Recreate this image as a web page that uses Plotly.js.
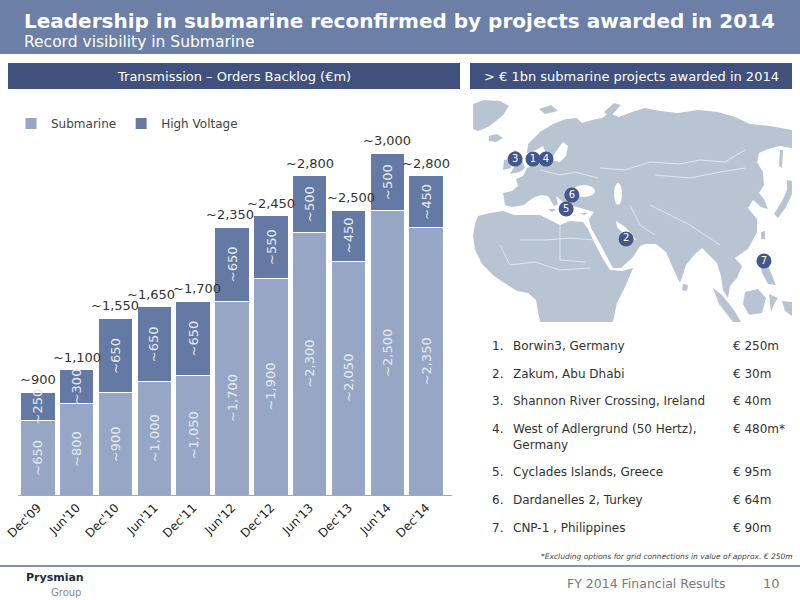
<!DOCTYPE html>
<html>
<head>
<meta charset="utf-8">
<script src="https://cdn.plot.ly/plotly-3.0.1.min.js"></script>
<style>
  html, body { margin: 0; padding: 0; background: #fff; }
  #chart { width: 800px; height: 600px; }
</style>
</head>
<body>
<div id="chart"></div>
<script>
// Data
const periods = ["Dec'09", "Jun'10", "Dec'10", "Jun'11", "Dec'11", "Jun'12", "Dec'12", "Jun'13", "Dec'13", "Jun'14", "Dec'14"];
const submarine = [650, 800, 900, 1000, 1050, 1700, 1900, 2300, 2050, 2500, 2350];
const highVoltage = [250, 300, 650, 650, 650, 650, 550, 500, 450, 500, 450];
const totals = [900, 1100, 1550, 1650, 1700, 2350, 2450, 2800, 2500, 3000, 2800];

const projectNames = ['Borwin3, Germany', 'Zakum, Abu Dhabi', 'Shannon River Crossing, Ireland',
    'West of Adlergrund (50 Hertz),<br>Germany', 'Cyclades Islands, Greece', 'Dardanelles 2, Turkey', 'CNP-1 , Philippines'];
const projectValues = ['€ 250m', '€ 30m', '€ 40m', '€ 480m*', '€ 95m', '€ 64m', '€ 90m'];
// pin location on the map, in % of map width / height (from top)
const pinLabels = ['1', '2', '3', '4', '5', '6', '7'];
const pinX = [18.8, 48.0, 13.2, 22.9, 29.2, 31.0, 91.2];
const pinY = [27.6, 63.1, 27.6, 27.6, 49.8, 43.6, 72.9];

// Page helpers (pixel -> paper)
const W = 800, H = 600;
const PX = x => x / W;
const PY = y => 1 - y / H;
const FONT = 'DejaVu Sans, Verdana, sans-serif';
const COL_SUB = '#97a6c5';
const COL_HV = '#6479a4';
const COL_NAVY = '#3f517c';
const COL_LAND = '#b9c4d3';

// small horizontal nudges of the total labels, as on the slide
const totalNudge = [0, 0, 0, -3, 4, -2, 0, 0, 2, 0, 0];

function fmt(v) { return '~' + v.toLocaleString('en-US'); }

function poly(points, color) {
    const d = points.map((p, i) => (i ? 'L' : 'M') + PX(p[0]).toFixed(4) + ',' + PY(p[1]).toFixed(4)).join(' ') + ' Z';
    return { type: 'path', xref: 'paper', yref: 'paper', path: d, fillcolor: color, line: { width: 0 }, layer: 'below' };
}
function border(points) {
    const d = points.map((p, i) => (i ? 'L' : 'M') + PX(p[0]).toFixed(4) + ',' + PY(p[1]).toFixed(4)).join(' ');
    return { type: 'path', xref: 'paper', yref: 'paper', path: d, line: { color: '#e8ecf2', width: 0.8 }, layer: 'below' };
}
function ellipse(cx, cy, rx, ry, color) {
    return { type: 'circle', xref: 'paper', yref: 'paper', x0: PX(cx - rx), x1: PX(cx + rx), y0: PY(cy + ry), y1: PY(cy - ry),
        fillcolor: color, line: { width: 0 }, layer: 'below' };
}
function rect(x0, y0, x1, y1, color) {
    return { type: 'rect', xref: 'paper', yref: 'paper', x0: PX(x0), x1: PX(x1), y0: PY(y1), y1: PY(y0),
        fillcolor: color, line: { width: 0 }, layer: 'below' };
}
function label(x, y, text, opts) {
    return Object.assign({ xref: 'paper', yref: 'paper', x: PX(x), y: PY(y), text: text, showarrow: false,
        xanchor: 'left', yanchor: 'middle', font: { family: FONT, size: 12, color: '#333' } }, opts || {});
}

// Rough land outline for the map background (pixel coords)
const land = [
    [[503,193],[512,191],[518,186],[516,179],[523,176],[527,168],[534,165],[538,158],[542,161],[551,160],[560,162],[566,156],[568,146],[563,142],[557,150],[552,158],[547,156],[543,146],[536,150],[527,153],[528,144],[540,132],[553,124],[566,119],[577,118],[582,123],[592,120],[602,118],[609,113],[619,117],[632,112],[645,108],[660,111],[678,113],[698,110],[718,112],[735,117],[750,124],[770,126],[792,130],[792,148],[780,146],[768,149],[759,153],[757,162],[763,172],[764,185],[759,193],[764,199],[768,209],[761,207],[753,200],[748,208],[757,219],[757,232],[748,249],[735,258],[742,266],[737,278],[730,286],[728,298],[723,290],[721,276],[717,263],[710,256],[702,248],[695,254],[686,265],[680,283],[673,268],[666,252],[656,244],[646,244],[640,246],[633,257],[621,268],[613,268],[607,257],[599,242],[591,228],[589,219],[594,212],[584,209],[573,206],[569,209],[566,208],[562,201],[556,196],[558,204],[554,206],[548,196],[541,195],[535,197],[530,200],[524,205],[512,207],[505,205]],
    [[478,216],[490,213],[503,211],[514,215],[528,215],[540,215],[550,220],[560,225],[570,221],[583,222],[588,229],[595,244],[603,259],[610,270],[622,271],[633,268],[626,285],[617,303],[613,322],[540,322],[536,300],[528,293],[517,291],[506,284],[494,276],[482,264],[475,250],[473,236],[475,224]],
    [[473,104],[484,100],[500,101],[509,106],[503,115],[496,121],[488,127],[478,131],[473,129]],
    [[489,136],[497,134],[503,138],[496,142],[489,141]],
    [[514,150],[519,152],[522,160],[525,168],[520,172],[510,174],[515,165],[512,157]],
    [[504,160],[510,159],[511,168],[503,170]],
    [[787,180],[792,181],[792,194],[786,207],[778,218],[774,214],[782,201],[787,190]],
    [[713,288],[722,295],[734,310],[741,322],[733,322],[719,304]],
    [[745,292],[758,289],[766,298],[762,313],[749,315],[743,304]],
    [[760,262],[767,262],[771,273],[776,285],[768,284],[762,273]],
    [[769,294],[778,298],[774,304],[771,312]],
    [[782,301],[792,302],[792,316],[785,311]],
    [[683,284],[688,285],[687,291],[682,290]],
    [[761,232],[765,231],[765,239],[761,239]],
    [[604,112],[614,103],[621,105],[610,117]],
    [[539,109],[551,105],[558,111],[545,114]],
    [[780,150],[783,150],[782,168],[779,166]],
    [[548,209],[556,209],[552,212]],
    [[580,213],[588,213],[584,215]]
];
const gulf = [[616,221],[624,226],[631,233],[636,240],[629,238],[622,232],[617,227]];
const borders = [
    [[600,168],[625,170],[650,162],[680,164],[700,160],[725,162],[745,150]],
    [[655,175],[690,178],[720,172],[745,168]],
    [[650,205],[670,215],[690,225],[705,235],[720,245]],
    [[520,240],[545,240],[570,238],[595,240]],
    [[500,245],[510,265],[535,262],[560,270],[590,268]],
    [[560,225],[560,260],[585,262]],
    [[540,170],[560,175],[575,172],[598,178]],
    [[630,205],[640,225],[655,235]]
];

// Traces
const traceSub = {
    x: periods, y: submarine, name: 'Submarine', type: 'bar',
    marker: { color: COL_SUB, line: { color: '#ffffff', width: 1 } }, hoverinfo: 'skip'
};
const traceHV = {
    x: periods, y: highVoltage, name: 'High Voltage', type: 'bar',
    marker: { color: COL_HV, line: { color: '#ffffff', width: 1 } }, hoverinfo: 'skip'
};
const tracePins = {
    x: pinX, y: pinY, text: pinLabels, mode: 'markers+text', type: 'scatter',
    xaxis: 'x2', yaxis: 'y2', showlegend: false, hoverinfo: 'skip',
    marker: { size: 15, color: '#44578a', line: { width: 0 } },
    textposition: 'middle center', textfont: { family: FONT, size: 10, color: '#ffffff' }
};

// Shapes
const shapes = [
    rect(0, 0, 800, 54, '#6b7fa7'),
    rect(8, 63, 460, 89, COL_NAVY),
    rect(470, 63, 792, 89, COL_NAVY),
    { type: 'line', xref: 'paper', yref: 'paper', x0: 0, x1: 1, y0: PY(566), y1: PY(566), line: { color: '#5b6b93', width: 1.5 } }
];
land.forEach(p => shapes.push(poly(p, COL_LAND)));
shapes.push(poly(gulf, '#ffffff'));
shapes.push(ellipse(584, 191, 11, 6, '#ffffff'));
shapes.push(ellipse(618, 194, 4, 11, '#ffffff'));
borders.forEach(b => shapes.push(border(b)));

// Annotations
const annotations = [
    label(22, 21, '<b>Leadership in submarine reconfirmed by projects awarded in 2014</b>', { font: { family: FONT, size: 20, color: '#ffffff' } }),
    label(22, 42, 'Record visibility in Submarine', { font: { family: FONT, size: 15.5, color: '#ffffff' } }),
    label(234, 76, 'Transmission – Orders Backlog (€m)', { xanchor: 'center', font: { family: FONT, size: 13, color: '#ffffff' } }),
    label(631, 76, '> € 1bn submarine projects awarded in 2014', { xanchor: 'center', font: { family: FONT, size: 13, color: '#ffffff' } }),
    label(795, 556, '<i>*Excluding options for grid connections in value of approx. € 250m</i>', { xanchor: 'right', font: { family: FONT, size: 7.5, color: '#444' } }),
    label(727, 583, 'FY 2014 Financial Results', { xanchor: 'right', font: { family: FONT, size: 12.5, color: '#7a7a7a' } }),
    label(782, 583, '10', { xanchor: 'right', font: { family: FONT, size: 13, color: '#7a7a7a' } }),
    label(24, 577, '<b>Prysmian</b>', { font: { family: FONT, size: 11, color: '#1e2a3a' } }),
    label(83, 592, 'Group', { xanchor: 'right', font: { family: FONT, size: 10, color: '#8a8a8a' } })
];

// totals above bars, values inside segments
periods.forEach((p, i) => {
    annotations.push({ x: p, y: totals[i], xref: 'x', yref: 'y', text: fmt(totals[i]), showarrow: false,
        yanchor: 'bottom', yshift: 3, xshift: totalNudge[i], font: { family: FONT, size: 13, color: '#333' } });
    annotations.push({ x: p, y: submarine[i] / 2, xref: 'x', yref: 'y', text: fmt(submarine[i]), showarrow: false,
        textangle: -90, font: { family: FONT, size: 13, color: '#e4e9f2' } });
    annotations.push({ x: p, y: submarine[i] + highVoltage[i] / 2, xref: 'x', yref: 'y', text: fmt(highVoltage[i]), showarrow: false,
        textangle: -90, font: { family: FONT, size: 13, color: '#e4e9f2' } });
});

// project list
let rowY = 345;
projectNames.forEach((name, i) => {
    const lines = name.split('<br>').length;
    annotations.push(label(505, rowY, (i + 1) + '.', { xanchor: 'right', yanchor: 'top', yshift: 8 }));
    annotations.push(label(511, rowY, name, { yanchor: 'top', yshift: 8, align: 'left' }));
    annotations.push(label(731, rowY, projectValues[i], { yanchor: 'top', yshift: 8 }));
    rowY += lines * 15.3 + 12.4;
});

const layout = {
    width: W, height: H,
    margin: { t: 0, b: 0, l: 0, r: 0 },
    paper_bgcolor: '#ffffff', plot_bgcolor: 'rgba(0,0,0,0)',
    font: { family: FONT, color: '#333' },
    barmode: 'stack', bargap: 0.11,
    showlegend: true,
    legend: { orientation: 'h', traceorder: 'normal', x: PX(11), y: PY(109), xanchor: 'left', yanchor: 'top',
        font: { family: FONT, size: 12, color: '#444' }, itemwidth: 30, bgcolor: 'rgba(0,0,0,0)' },
    xaxis: { domain: [PX(17.75), PX(452.25)], type: 'category', tickangle: -45,
        tickfont: { family: FONT, size: 12, color: '#222' }, showline: true, linecolor: '#a8a8a8', linewidth: 1,
        showgrid: false, ticks: '', fixedrange: true },
    yaxis: { domain: [PY(495), PY(100)], range: [0, 3465], visible: false, fixedrange: true },
    xaxis2: { domain: [PX(473), PX(792)], range: [0, 100], visible: false, anchor: 'y2', fixedrange: true },
    yaxis2: { domain: [PY(322), PY(97)], range: [100, 0], visible: false, anchor: 'x2', fixedrange: true },
    shapes: shapes,
    annotations: annotations
};

Plotly.newPlot('chart', [traceSub, traceHV, tracePins], layout, { displayModeBar: false, staticPlot: true });
</script>
</body>
</html>
